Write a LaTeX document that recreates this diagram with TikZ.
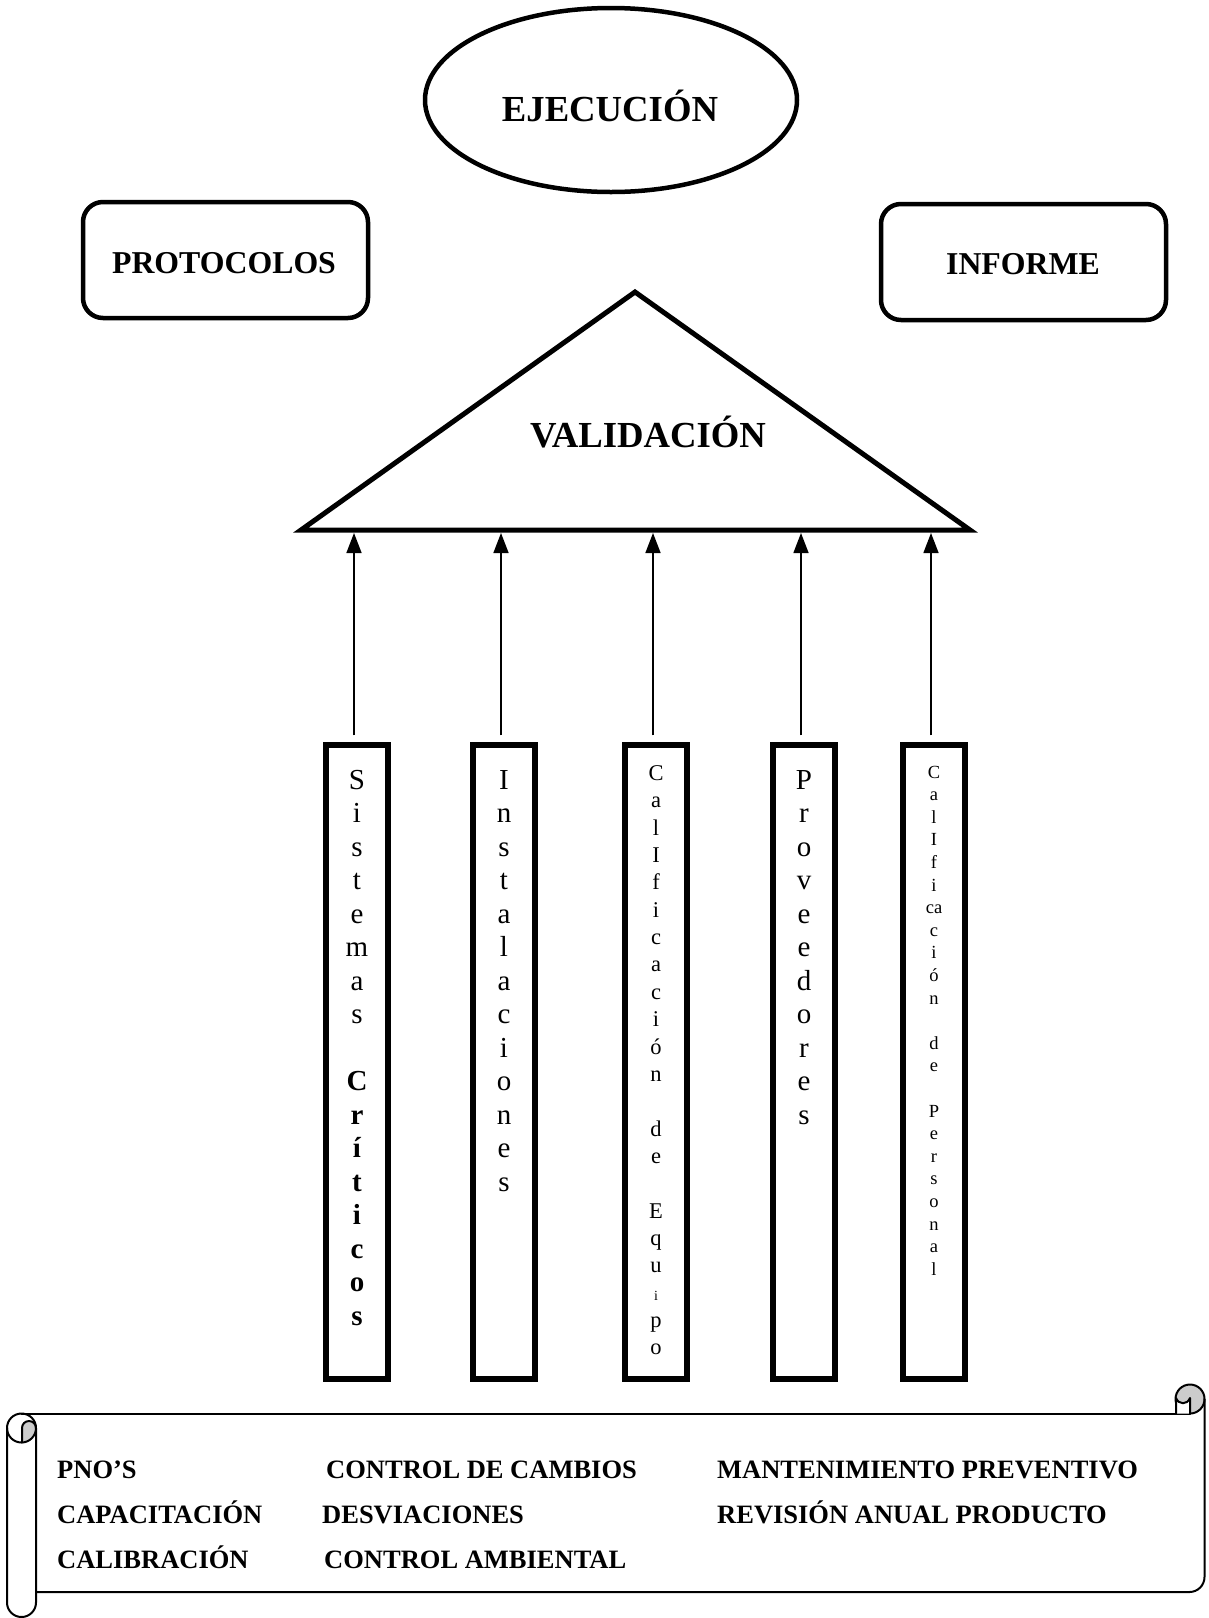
\documentclass[tikz,border=0pt]{standalone}
\usepackage{fontspec}
\setmainfont{Liberation Serif}
\usetikzlibrary{arrows.meta,shapes.geometric,calc}
\begin{document}
\begin{tikzpicture}[x=1pt,y=-1pt,
  roundbox/.style={rectangle,rounded corners=20pt,draw,line width=4.5pt,minimum width=285pt,minimum height=116pt,inner sep=0pt},
  titlefont/.style={font=\fontsize{36.7}{40}\selectfont\bfseries},
  boxfont/.style={font=\fontsize{31.8}{36}\selectfont\bfseries},
  colbox/.style={rectangle,draw,line width=5.5pt,minimum width=62pt,minimum height=634pt,inner sep=0pt},
  arr/.style={line width=1.5pt,-{Triangle[length=20pt,width=15pt]}},
  letA/.style={anchor=base,inner sep=0pt,font=\fontsize{29}{29}\selectfont},
  letB/.style={anchor=base,inner sep=0pt,font=\fontsize{22.5}{22.5}\selectfont},
  letC/.style={anchor=base,inner sep=0pt,font=\fontsize{18.5}{18.5}\selectfont},
  scrolltext/.style={anchor=base west,inner sep=0pt,font=\fontsize{26.5}{30}\selectfont\bfseries},
  scroll/.style={line width=2pt,line cap=round,line join=round}]
\useasboundingbox (0,0) rectangle (1209,1618);

% Ejecucion
\node[ellipse,draw,line width=4.5pt,minimum width=372pt,minimum height=184pt,inner sep=0pt] (ejec) at (611,100) {};
\node[titlefont,anchor=base,inner sep=0pt] (ejecT) at (610,121) {EJECUCIÓN};

% Protocolos / Informe
\node[roundbox] (prot) at (225.5,260) {};
\node[boxfont,anchor=base,inner sep=0pt] (protT) at (224,273) {PROTOCOLOS};
\node[roundbox] (info) at (1023.5,262) {};
\node[boxfont,anchor=base,inner sep=0pt] (infoT) at (1023,274) {INFORME};

% Validacion triangle
\coordinate (tl) at (301,530);
\coordinate (tt) at (635,292);
\coordinate (tr) at (970,530);
\draw[line width=5pt,line join=miter] (tl) -- (tt) -- (tr) -- cycle;
\node[titlefont,anchor=base,inner sep=0pt] (valT) at (648,447) {VALIDACIÓN};
\coordinate (tb) at (0,533);

% columns and arrows
\foreach \i/\x in {1/357,2/504,3/656,4/804,5/934} {
  \node[colbox] (b\i) at (\x,1062) {};
  \coordinate (s\i) at ([xshift=-3pt,yshift=7pt]b\i.north);
  \draw[arr] (s\i) -- (s\i |- tb);
}

% column texts
\foreach \l [count=\k] in {S,i,s,t,e,m,a,s}
  \node[letA] (c1-\k) at (357,{789+(\k-1)*33.5}) {\l};
\foreach \l [count=\k from 10] in {C,r,í,t,i,c,o,s}
  \node[letA,font=\fontsize{29}{29}\selectfont\bfseries] (c1-\k) at (357,{789+(\k-1)*33.5}) {\l};
\foreach \l [count=\k] in {I,n,s,t,a,l,a,c,i,o,n,e,s}
  \node[letA] (c2-\k) at (504,{789+(\k-1)*33.5}) {\l};
\foreach \l [count=\k] in {C,a,l,I,f,i,c,a,c,i,ó,n,{},d,e,{},E,q,u,{\fontsize{14}{14}\selectfont i},p,o}
  \node[letB] (c3-\k) at (656,{780.5+(\k-1)*27.35}) {\l};
\foreach \l [count=\k] in {P,r,o,v,e,e,d,o,r,e,s}
  \node[letA] (c4-\k) at (804,{789+(\k-1)*33.5}) {\l};
\foreach \l [count=\k] in {C,a,l,I,f,i,ca,c,i,ó,n,{},d,e,{},P,e,r,s,o,n,a,l}
  \node[letC] (c5-\k) at (934,{778+(\k-1)*22.6}) {\l};

% scroll
\fill[gray!40] (22,1442.5) -- (22,1428) arc[start angle=180,end angle=360,radius=7] arc[start angle=0,end angle=88,radius=14.5] -- cycle;
\draw[scroll] (21.5,1428) circle[radius=14.5];
\draw[scroll] (22,1442.5) -- (22,1428) arc[start angle=180,end angle=360,radius=7];
\draw[scroll,rounded corners=14.5pt] (7,1428) -- (7,1617) -- (36,1617) -- (36,1428);
\draw[scroll] (21.5,1413.5) -- (1190,1413.5);
\filldraw[scroll,fill=gray!40] (1190,1399) circle[radius=14.5];
\filldraw[scroll,fill=white] (1176,1413.5) -- (1176,1398) .. controls (1179,1405) and (1187,1405) .. (1190,1398) -- (1190,1413.5);
\draw[scroll,rounded corners=15pt] (1204.5,1399) -- (1204.5,1592) -- (36,1592);

\node[scrolltext] (p1) at (57,1478) {PNO’S};
\node[scrolltext] (p2) at (57,1523) {CAPACITACIÓN};
\node[scrolltext] (p3) at (57,1568) {CALIBRACIÓN};
\node[scrolltext] (q1) at (326,1478) {CONTROL DE CAMBIOS};
\node[scrolltext] (q2) at (322,1523) {DESVIACIONES};
\node[scrolltext] (q3) at (324,1568) {CONTROL AMBIENTAL};
\node[scrolltext] (r1) at (717,1478) {MANTENIMIENTO PREVENTIVO};
\node[scrolltext] (r2) at (717,1523) {REVISIÓN ANUAL PRODUCTO};
\end{tikzpicture}
\end{document}
